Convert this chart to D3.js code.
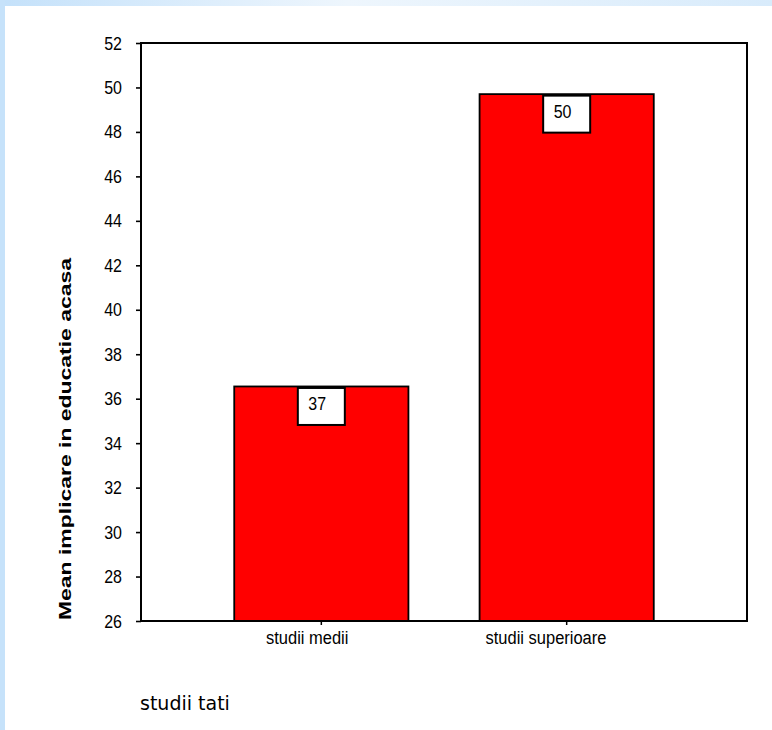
<!DOCTYPE html>
<html>
<head>
<meta charset="utf-8">
<script src="https://cdn.jsdelivr.net/npm/d3@7"></script>
<style>
  html, body { margin: 0; padding: 0; background: #ffffff; }
  svg { display: block; }
</style>
</head>
<body>
<svg id="chart" width="772" height="730"></svg>
<script>
// ---- data ----
const categories = ["studii medii", "studii superioare"];
const means = [36.55, 49.7];
const valueLabels = ["37", "50"];
const yTickValues = [26, 28, 30, 32, 34, 36, 38, 40, 42, 44, 46, 48, 50, 52];
const yTitle = "Mean implicare in educatie acasa";
const xTitle = "studii tati";

// ---- layout ----
const W = 772, H = 730;
const plot = { left: 141, right: 747, top: 43, bottom: 621 };
const svg = d3.select("#chart");

// background bands
const defs = svg.append("defs");
const grad = defs.append("linearGradient").attr("id", "topband").attr("x1", "0%").attr("x2", "100%");
grad.append("stop").attr("offset", "0%").attr("stop-color", "#c4e1fa");
grad.append("stop").attr("offset", "45%").attr("stop-color", "#eef6fd");
grad.append("stop").attr("offset", "100%").attr("stop-color", "#d8ebfb");
svg.append("rect").attr("x", 0).attr("y", 0).attr("width", W).attr("height", 6).attr("fill", "url(#topband)");
svg.append("rect").attr("x", 0).attr("y", 0).attr("width", 5).attr("height", H).attr("fill", "#c6e2fa");

// scales
const y = d3.scaleLinear().domain([26, 52]).range([plot.bottom, plot.top]);
const x = d3.scaleBand().domain(categories).range([plot.left, plot.right])
  .paddingInner(0.29).paddingOuter(0.38);

const data = categories.map((c, i) => ({ cat: c, v: means[i], label: valueLabels[i] }));

// bars
svg.append("g").selectAll("rect").data(data).join("rect")
  .attr("x", d => x(d.cat))
  .attr("y", d => y(d.v))
  .attr("width", x.bandwidth())
  .attr("height", d => y(26) - y(d.v))
  .attr("fill", "#ff0000")
  .attr("stroke", "#000")
  .attr("stroke-width", 1.8);

// value label boxes
const boxW = 47, boxH = 37;
const lab = svg.append("g").selectAll("g").data(data).join("g")
  .attr("transform", d => `translate(${x(d.cat) + x.bandwidth() / 2 - boxW / 2},${y(d.v) + 1.5})`);
lab.append("rect").attr("width", boxW).attr("height", boxH)
  .attr("fill", "#fff").attr("stroke", "#000").attr("stroke-width", 2);
lab.append("text")
  .attr("transform", "translate(10.5,22) scale(1,1.15)")
  .attr("font-family", "'Liberation Sans', Arial, sans-serif")
  .attr("font-size", 16)
  .attr("fill", "#000")
  .text(d => d.label);

// y axis
const yAxis = svg.append("g").attr("transform", `translate(${plot.left},0)`)
  .call(d3.axisLeft(y).tickValues(yTickValues).tickSize(5).tickPadding(14).tickFormat(d3.format("d")));
yAxis.select(".domain").remove();
yAxis.selectAll(".tick line").attr("stroke", "#000").attr("stroke-width", 1.6);
yAxis.selectAll(".tick text")
  .attr("font-family", "'Liberation Sans', Arial, sans-serif")
  .attr("font-size", 16)
  .attr("fill", "#000")
  .attr("x", null).attr("dy", null)
  .attr("transform", "translate(-19,6) scale(1,1.15)");

// x axis ticks
const xAxis = svg.append("g").attr("transform", `translate(0,${plot.bottom})`)
  .call(d3.axisBottom(x).tickSize(4).tickFormat(""));
xAxis.select(".domain").remove();
xAxis.selectAll(".tick line").attr("stroke", "#000").attr("stroke-width", 1.5);

// x category labels (shifted left like the original rendering)
const xl = svg.append("g").selectAll("text").data(categories).join("text")
  .attr("font-family", "'Liberation Sans', Arial, sans-serif")
  .attr("font-size", 16.5)
  .attr("fill", "#000")
  .attr("text-anchor", "middle")
  .text(d => d);
xl.each(function(d) {
  const w = this.getComputedTextLength();
  const cx = x(d) + x.bandwidth() / 2 - 0.171 * w;
  d3.select(this).attr("transform", `translate(${cx},644) scale(1,1.1)`);
});

// plot frame
svg.append("rect")
  .attr("x", plot.left).attr("y", plot.top)
  .attr("width", plot.right - plot.left).attr("height", plot.bottom - plot.top)
  .attr("fill", "none").attr("stroke", "#000").attr("stroke-width", 2);

// y title
svg.append("text")
  .attr("transform", `translate(71,439) rotate(-90)`)
  .attr("text-anchor", "middle")
  .attr("font-family", "'Liberation Sans', Arial, sans-serif")
  .attr("font-weight", "bold")
  .attr("font-size", 17)
  .attr("textLength", 362)
  .attr("lengthAdjust", "spacingAndGlyphs")
  .attr("fill", "#000")
  .text(yTitle);

// x title
svg.append("text")
  .attr("x", 140).attr("y", 710)
  .attr("font-family", "'DejaVu Sans', Verdana, sans-serif")
  .attr("font-size", 19)
  .attr("fill", "#000")
  .text(xTitle);
</script>
</body>
</html>
